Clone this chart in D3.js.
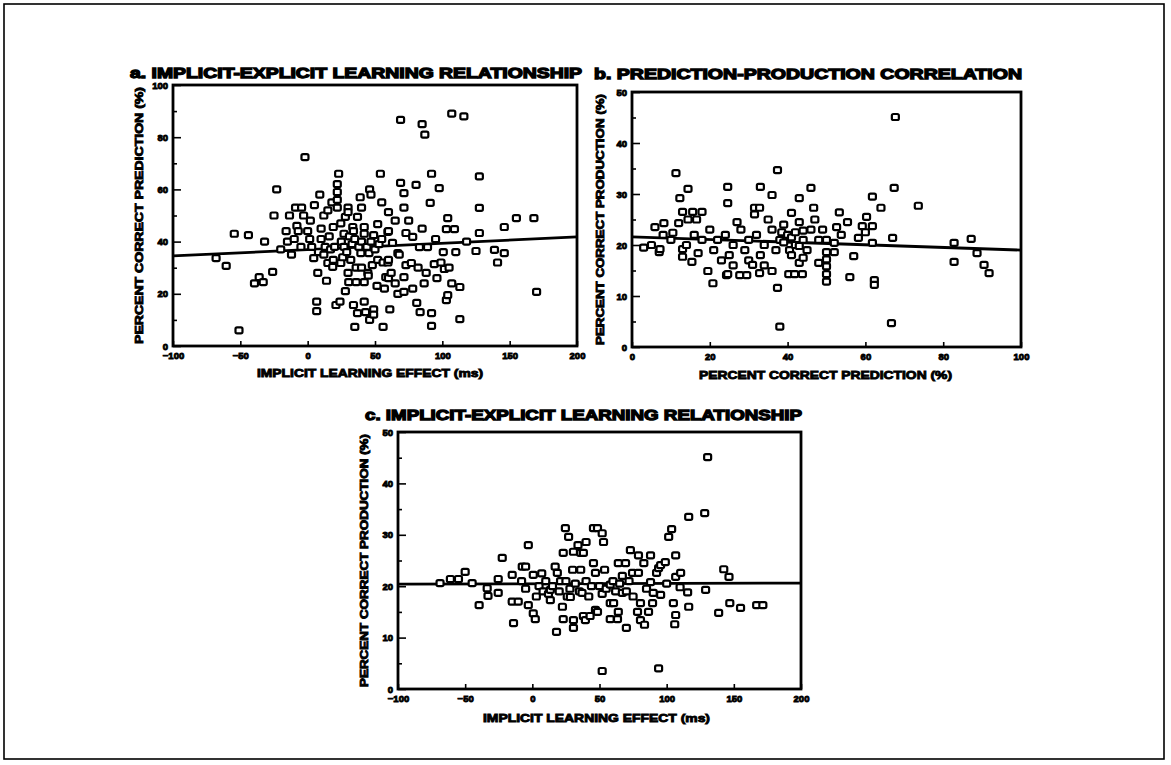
<!DOCTYPE html>
<html>
<head>
<meta charset="utf-8">
<script src="https://cdn.jsdelivr.net/npm/d3@7"></script>
<style>
  html, body { margin: 0; padding: 0; background: #fff; }
  .tick text { font-family: "Liberation Sans", Arial, sans-serif; font-weight: bold; font-size: 9.5px; fill: #000; stroke: #000; stroke-width: 0.9px; }
  .tick line { stroke: #000; stroke-width: 1.6px; }
  .ttl { font-family: "Liberation Sans", Arial, sans-serif; font-weight: bold; fill: #000; stroke: #000; stroke-width: 1.3px; }
  .lbl { font-family: "Liberation Sans", Arial, sans-serif; font-weight: bold; fill: #000; stroke: #000; stroke-width: 0.9px; }
</style>
</head>
<body>
<script>
// a. implicit learning effect (ms) vs percent correct prediction (%)
const implicitVsPrediction = [
  [-68,33.7],[-60.5,30.7],[-54.5,43],[-51,6],[-44,42.5],[-39.5,24],[-36,26.4],[-33,24.5],[-32,40],[-26,28.4],
  [-25,50],[-23,60],[-20,37],[-16,44],[-15,40],[-13.5,50],[-12,35],[-10,41],[-9,53],[-8,46],[-7,44],[-5,38],
  [-4.5,53],[-3,50],[-2,72.4],[0,44],[1.5,41],[2,48],[3,38],[4.5,33.7],[5,54],[6.7,17],[6.7,13.4],[7.5,28],
  [8,36],[9,58],[10,45],[10,41],[12,35],[12,50],[13,38],[14,25],[15,31.8],[15,52],[16,42],[17,37],[18,55],
  [18.6,30.3],[19,33],[19,45.6],[20,38],[21,15.7],[22,62],[22,59],[22,56],[22,53],[23,66],[24,17],[24.6,47],
  [24.6,31.8],[25,40],[26,34],[27,43],[27,38],[28,21],[28,49.5],[29,36],[30,53],[30,51.3],[30,28],[30.5,24.5],
  [31,42],[32,33],[33,39],[33.5,45.6],[34,44],[34,15.7],[35,7.3],[35,41],[36,24.5],[36,30],[37,49.5],[37,12.6],
  [38,38],[39,57],[39.5,35.6],[40,40],[40,30],[40,53],[42,45.6],[42,43],[42,24.5],[42,17],[43,13],[44,38],
  [44.7,28],[45,27],[45.5,35.6],[46,10],[46,60],[47,40],[47,58],[48,31],[49,42.5],[49,14],[49,12],[50,37],
  [51.5,23],[52,46.7],[52,33],[53,39],[54,66],[55,41],[55,55],[56,7.3],[56,32],[57,22],[58,26.4],[59.6,43.7],
  [59.6,32],[60,51.3],[60,44],[60,33],[60,26],[61,14],[62,28],[63,39.5],[65,48],[65,24],[67,35.6],[67,20],
  [68,35],[69,86.6],[69,62.5],[71.5,58.6],[71.5,53],[71.5,26.4],[71.5,20.7],[73,43.3],[73,31],[75,48],
  [77,31.8],[78,41.8],[78,22],[80.5,61.7],[81,16.5],[82,30],[83,37.9],[83.5,13],[85,85],[85,45],[86.5,24],
  [87,81],[88,28],[89,37.9],[91,54.8],[92,66],[92,12.6],[92,7.7],[94,31.4],[95,41],[96,26],[97.7,60.5],
  [99,32],[100.7,36],[101.5,29.5],[103,44.8],[103,17.6],[104,49],[104,19.5],[105,30],[107,89],[107,24],
  [109,44.8],[110,36],[113,22.6],[113,10.3],[116,88],[118,40],[125,36.4],[127.5,65],[127.5,52.9],[127.5,43.3],
  [138.7,36.8],[141,32],[146,45.6],[146,35.6],[155,49],[168,49],[170,20.7]
];

// b. percent correct prediction (%) vs percent correct production (%)
const predictionVsProduction = [
  [3,19.5],[5,20],[5.9,23.5],[7,18.6],[7.2,19.2],[8,22],[8.2,24.3],[10,21],[10.5,22.4],[11.3,34.1],[12,24.3],
  [12.3,29.2],[13,26.5],[13,19.2],[13,17.7],[14,20],[14.4,31],[14.4,25],[15.4,16.7],[15.6,26.5],[16,22],
  [16.6,25],[17,18.4],[18,26.5],[18,21],[19.5,14.9],[20,23],[20.8,12.5],[21,19],[22,21],[23,17],[24,22],
  [24.3,14.1],[24.6,31.4],[24.6,28.2],[24.6,14.3],[25,18],[26,20],[26,16],[27,24.5],[27.7,14.1],[28,23],
  [29,19],[29.5,14.1],[30,21],[30,17],[31,16.1],[31.5,27.3],[31.5,26],[32,22],[32.8,27.3],[32.8,14.5],
  [33,31.4],[33,18],[34,20],[34,16],[35,25],[36,29.8],[36,23],[36,14.9],[37,19],[37.4,34.7],[37.4,11.6],
  [38,21],[38,4],[38.5,22.5],[39,24],[39,20.5],[40,22],[40.3,14.3],[40.5,19],[41,26.3],[41,18],[41,21.5],
  [41.8,14.3],[42,20],[42,22.5],[43,29.2],[43,16.5],[43,24.5],[43,19.8],[43.8,14.3],[44,21],[44,22.8],
  [44,17.5],[45,19],[46,31.2],[46,23],[46.7,27.3],[47,25],[48,21],[48,16.5],[49,23],[50,21],[50,18.6],
  [50,17.2],[50,15.8],[50,14.3],[50,12.8],[52,20.4],[52,18.6],[52.6,23.5],[53.3,26.4],[53.8,22],[55.4,24.5],
  [56,13.7],[57,17.8],[58.2,21.4],[59.2,23.7],[60,22.5],[60.3,25.5],[61.8,29.5],[61.8,23.7],[61.8,20.4],
  [62.3,13.1],[62.3,12.2],[64,27.3],[66.7,4.7],[67,21.4],[67.4,31.2],[67.7,45.1],[73.6,27.7],[82.8,20.4],
  [82.8,16.7],[87.2,21.2],[88.7,18.4],[90.5,16.1],[91.8,14.5]
];

// c. implicit learning effect (ms) vs percent correct production (%)
const implicitVsProduction = [
  [-68.7,20.6],[-61,21.4],[-55,21.4],[-50,22.8],[-44.8,20.6],[-39.6,16.3],[-33.6,19.6],[-33,18.1],[-25.4,21.4],
  [-25.4,18.7],[-22.4,25.5],[-15,22.2],[-15,17],[-14,12.8],[-10.5,17],[-8,21],[-7.5,23.8],[-5,23.8],[-5,19.5],
  [-3,28],[-3,16.3],[0.7,22.2],[0.7,14.7],[2.2,13.6],[3,18],[5,20],[7,22.5],[8,19],[10,21],[12,18.5],[13.4,17.3],
  [13.4,19.3],[15,20],[17,23.8],[18,11.1],[18.6,22.6],[20,19],[21,21],[22.4,16],[23,26.5],[23,13.6],[24.6,31.3],
  [25,21],[26,18],[27,29.6],[28,19.5],[28.3,17.9],[30,23.2],[30.6,26.7],[30.6,13.4],[30.6,11.9],[32,20.5],[34,28],
  [35,19],[36,26.5],[36,23.2],[37,18.7],[38,14.2],[38,26.5],[39.5,13.4],[40,28.6],[40,21],[42,18],[43,14.2],
  [44,20],[45.5,31.3],[45.5,24.5],[47,22.6],[47,15.4],[48.5,31.3],[48.5,15],[50,20],[52,30.3],[52,18.5],[52,3.5],
  [53,28.6],[53.8,23.2],[55,19.5],[58,16.7],[58,13.6],[58,20.3],[60,21],[60.5,16.7],[62,19],[63.4,13.6],
  [64,24.5],[64,15],[65,20.5],[67,18.7],[67,22],[69.4,24.5],[70,19],[70,11.9],[72,21],[73,27],[74.6,22.6],
  [75,18],[78.3,15],[79,26],[79,22.6],[80.5,16.7],[80.5,13.4],[83,24.5],[83.5,12.5],[85,19.5],[86.5,15],
  [88,26],[88,20.8],[89.5,16.7],[90,18.7],[92.5,22.6],[94,23.5],[94,4],[95.5,24.1],[95.5,18.3],[99,24.7],
  [100,20.5],[101.5,29.6],[103.7,31.1],[105,16.7],[106,12.6],[106.7,26],[106.7,21.8],[106.7,14.4],[110,19.8],
  [110.4,22.6],[115.6,18.8],[116.4,33.5],[116.4,16],[128.3,34.2],[129,19.3],[130.5,45.1],[138.7,14.8],
  [142.5,23.3],[146.4,21.8],[147,16.7],[155,15.8],[167,16.3],[171.6,16.3]
];

// regression lines (end points)
const fitA = [[-100, 34.5], [200, 41.8]];
const fitB = [[0, 21.6], [100, 19.0]];
const fitC = [[-100, 20.4], [200, 20.6]];

const msTicks = [-100, -50, 0, 50, 100, 150, 200];
const pctTicks = [0, 20, 40, 60, 80, 100];
const prodTicks = [0, 10, 20, 30, 40, 50];

const W = 1171, H = 765;

const svg = d3.select("body").append("svg")
    .attr("width", W)
    .attr("height", H);

svg.append("rect")
    .attr("x", 4).attr("y", 4)
    .attr("width", 1160).attr("height", 755)
    .attr("fill", "none")
    .attr("stroke", "#000")
    .attr("stroke-width", 1.6);

function panel(p) {
    const x = d3.scaleLinear().domain(p.xDomain).range([p.left, p.right]);
    const y = d3.scaleLinear().domain(p.yDomain).range([p.bottom, p.top]);

    // minor y ticks
    svg.append("g")
        .attr("transform", "translate(" + p.left + ",0)")
        .call(d3.axisLeft(y).tickValues(p.yMinor).tickSize(-4).tickFormat(""))
        .call(g => g.select(".domain").remove());

    svg.append("g")
        .attr("transform", "translate(" + p.left + ",0)")
        .call(d3.axisLeft(y).tickValues(p.yTicks).tickSize(-8).tickPadding(5).tickFormat(d3.format("d")))
        .call(g => g.select(".domain").remove());

    svg.append("g")
        .attr("transform", "translate(0," + p.bottom + ")")
        .call(d3.axisBottom(x).tickValues(p.xTicks).tickSize(-5).tickPadding(6).tickFormat(d3.format("d")))
        .call(g => g.select(".domain").remove());

    // frame
    svg.append("rect")
        .attr("x", p.left).attr("y", p.top)
        .attr("width", p.right - p.left).attr("height", p.bottom - p.top)
        .attr("fill", "none")
        .attr("stroke", "#000")
        .attr("stroke-width", 2.8);

    svg.append("line")
        .attr("x1", x(p.fit[0][0])).attr("y1", y(p.fit[0][1]))
        .attr("x2", x(p.fit[1][0])).attr("y2", y(p.fit[1][1]))
        .attr("stroke", "#000")
        .attr("stroke-width", 2.8);

    svg.append("g").selectAll("rect")
        .data(p.data)
        .enter()
        .append("rect")
        .attr("x", d => x(d[0]) - 3.5)
        .attr("y", d => y(d[1]) - 3)
        .attr("width", 7)
        .attr("height", 6)
        .attr("rx", 1.6)
        .attr("fill", "#fff")
        .attr("stroke", "#000")
        .attr("stroke-width", 2.2);

    svg.append("text")
        .attr("class", "ttl")
        .attr("x", p.titleX).attr("y", p.titleY)
        .attr("font-size", 15)
        .attr("textLength", p.titleW)
        .attr("lengthAdjust", "spacingAndGlyphs")
        .text(p.title);

    svg.append("text")
        .attr("class", "lbl")
        .attr("x", (p.xLabelX0 + p.xLabelX1) / 2).attr("y", p.xLabelY)
        .attr("text-anchor", "middle")
        .attr("font-size", 11.5)
        .attr("textLength", p.xLabelX1 - p.xLabelX0)
        .attr("lengthAdjust", "spacingAndGlyphs")
        .text(p.xLabel);

    svg.append("text")
        .attr("class", "lbl")
        .attr("transform", "translate(" + p.yLabelX + "," + (p.top + p.bottom) / 2 + ") rotate(-90)")
        .attr("text-anchor", "middle")
        .attr("font-size", 11.5)
        .attr("textLength", p.bottom - p.top - 4)
        .attr("lengthAdjust", "spacingAndGlyphs")
        .text(p.yLabel);
}

panel({
    data: implicitVsPrediction, fit: fitA,
    left: 173, right: 577, top: 85, bottom: 346,
    xDomain: [-100, 200], yDomain: [0, 100],
    xTicks: msTicks, yTicks: pctTicks, yMinor: [10, 30, 50, 70, 90],
    title: "a. IMPLICIT-EXPLICIT LEARNING RELATIONSHIP", titleX: 130, titleY: 78, titleW: 452,
    xLabel: "IMPLICIT LEARNING EFFECT (ms)", xLabelX0: 257, xLabelX1: 483, xLabelY: 377,
    yLabel: "PERCENT CORRECT PREDICTION (%)", yLabelX: 143
});

panel({
    data: predictionVsProduction, fit: fitB,
    left: 632, right: 1021, top: 92, bottom: 347,
    xDomain: [0, 100], yDomain: [0, 50],
    xTicks: pctTicks, yTicks: prodTicks, yMinor: [5, 15, 25, 35, 45],
    title: "b. PREDICTION-PRODUCTION CORRELATION", titleX: 594, titleY: 79, titleW: 428,
    xLabel: "PERCENT CORRECT PREDICTION (%)", xLabelX0: 699, xLabelX1: 952, xLabelY: 379,
    yLabel: "PERCENT CORRECT PRODUCTION (%)", yLabelX: 604
});

panel({
    data: implicitVsProduction, fit: fitC,
    left: 398, right: 801, top: 432, bottom: 689,
    xDomain: [-100, 200], yDomain: [0, 50],
    xTicks: msTicks, yTicks: prodTicks, yMinor: [5, 15, 25, 35, 45],
    title: "c. IMPLICIT-EXPLICIT LEARNING RELATIONSHIP", titleX: 365, titleY: 420, titleW: 437,
    xLabel: "IMPLICIT LEARNING EFFECT (ms)", xLabelX0: 483, xLabelX1: 710, xLabelY: 722,
    yLabel: "PERCENT CORRECT PRODUCTION (%)", yLabelX: 368
});
</script>
</body>
</html>
